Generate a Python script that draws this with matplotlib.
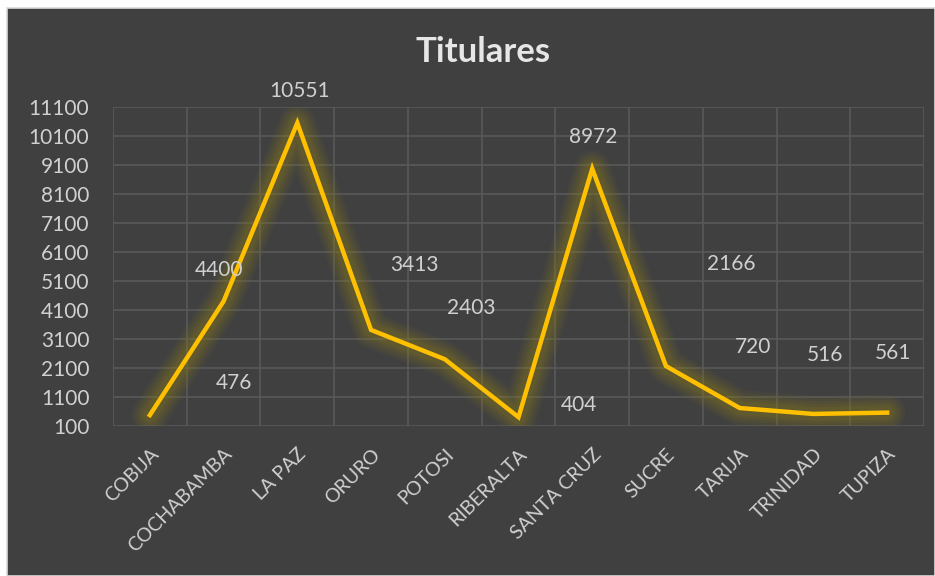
import matplotlib
matplotlib.use("Agg")
import matplotlib.pyplot as plt
from matplotlib.patches import Rectangle
import numpy as np

categories = ["COBIJA", "COCHABAMBA", "LA PAZ", "ORURO", "POTOSI", "RIBERALTA",
              "SANTA CRUZ", "SUCRE", "TARIJA", "TRINIDAD", "TUPIZA"]
values = [476, 4400, 10551, 3413, 2403, 404, 8972, 2166, 720, 516, 561]
y_ticks = [100, 1100, 2100, 3100, 4100, 5100, 6100, 7100, 8100, 9100, 10100, 11100]
title = "Titulares"

# label offsets (pixels) relative to each point, mimicking the reference placement
label_offsets = [(84, 32), (-5, 31), (2, 32), (43, 65), (26, 51), (60, 12),
                 (1, 32), (65, 102), (13, 61), (12, 59), (6, 60)]

plt.rcParams['font.family'] = ['Lato', 'DejaVu Sans']

BG = "#404040"
TXT = "#D0D0D0"
GRID = "#595959"
LINE = "#FFC000"

fig = plt.figure(figsize=(9.35, 5.76), dpi=100)
fig.patch.set_facecolor("white")
fig.patches.append(Rectangle((7 / 935, 0), 1 - 7 / 935, 1 - 8 / 576, transform=fig.transFigure,
                             facecolor=BG, edgecolor="#D9D9D9", linewidth=1.2, zorder=-10))

ax = fig.add_axes([113 / 935, (576 - 426) / 576, (924 - 113) / 935, (426 - 107) / 576])
ax.set_facecolor(BG)
ax.patch.set_alpha(0)

x = np.arange(len(categories))
ax.set_xlim(-0.5, len(categories) - 0.5)
ax.set_ylim(y_ticks[0], y_ticks[-1])

# grid
ax.set_yticks(y_ticks)
ax.set_yticklabels([str(t) for t in y_ticks])
ax.set_xticks(x)
ax.set_xticks(np.arange(-0.5, len(categories)), minor=True)
ax.grid(True, axis='y', which='major', color=GRID, linewidth=1.2)
ax.grid(True, axis='x', which='minor', color=GRID, linewidth=1.2)
ax.grid(False, axis='x', which='major')
ax.set_axisbelow(True)
for s in ax.spines.values():
    s.set_visible(False)

ax.tick_params(axis='both', which='both', length=0, colors=TXT)
ax.tick_params(axis='y', labelsize=15, pad=17)
ax.set_xticklabels(categories, rotation=45, ha='right', va='top',
                   rotation_mode='anchor', fontsize=14, color=TXT)
ax.tick_params(axis='x', pad=14)

# glow
for lw, a in [(26, 0.07), (22, 0.09), (18, 0.11), (14, 0.13), (10, 0.16)]:
    ax.plot(x, values, color="#8C7C1E", linewidth=lw, alpha=a, solid_capstyle='round',
            solid_joinstyle='round', zorder=2)
ax.plot(x, values, color=LINE, linewidth=3.2, solid_joinstyle='miter', zorder=3)

for xi, v, (dx, dy) in zip(x, values, label_offsets):
    ax.annotate(str(v), (xi, v), xytext=(dx, dy), textcoords='offset pixels',
                ha='center', va='center', fontsize=15, color=TXT, zorder=4)

fig.text(483 / 935, 1 - 52 / 576, title, ha='center', va='center',
         fontsize=25, fontweight='bold', color="#E6E6E6")

fig.savefig("out.png", dpi=100, facecolor=fig.get_facecolor())
